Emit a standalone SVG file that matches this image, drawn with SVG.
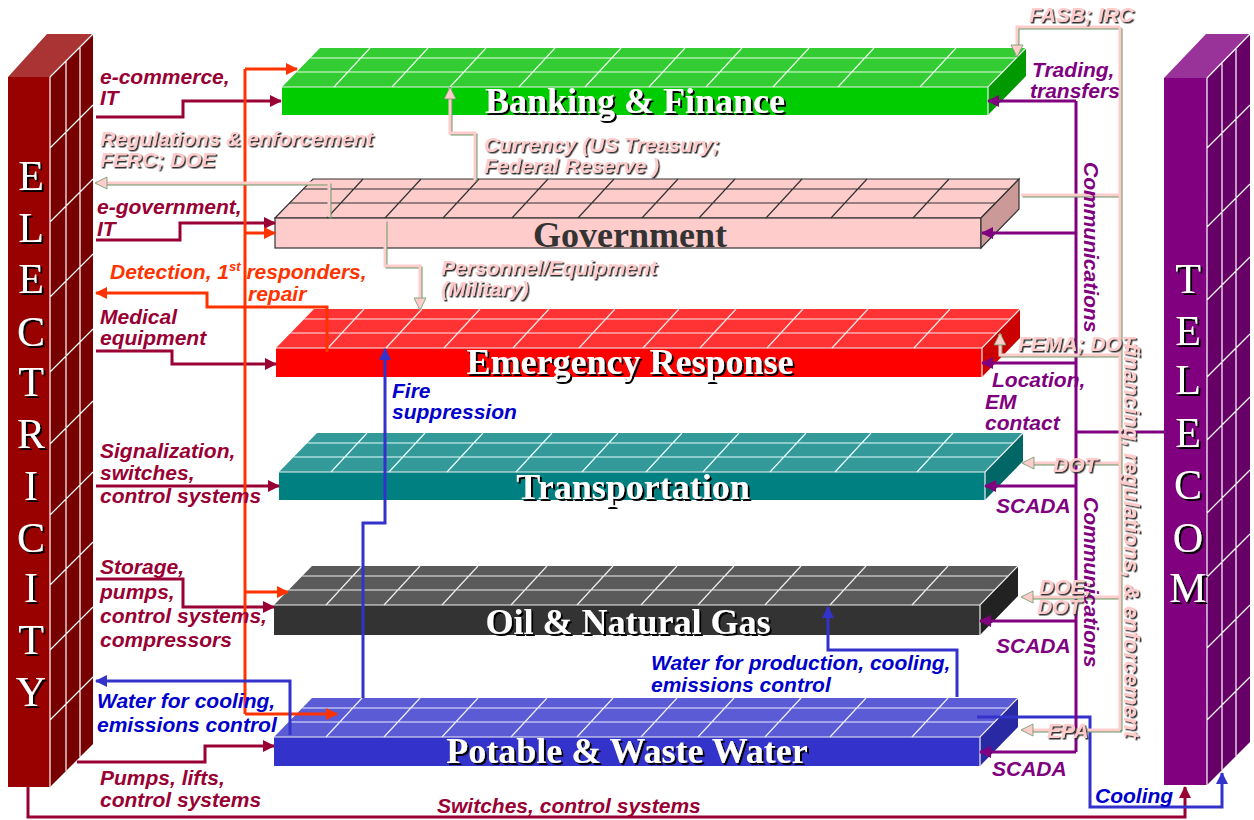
<svg xmlns="http://www.w3.org/2000/svg" width="1254" height="820" viewBox="0 0 1254 820">
<defs>
<style>
.lb{font-family:"Liberation Sans",Arial,sans-serif;font-weight:bold;font-style:italic;font-size:21px}
.mr{fill:#990033}.or{fill:#ff3300}.bl{fill:#0000cc}.pu{fill:#800080}.pk{fill:#ffcccc}
.tt{font-family:"Liberation Serif","Times New Roman",serif;font-weight:bold;font-size:36px;fill:#fff;text-anchor:middle}
.pl{font-family:"Liberation Serif","Times New Roman",serif;font-size:42px;fill:#fff;text-anchor:middle}
.c{fill:none;stroke-width:3}
.cm{stroke:#990033}.co{stroke:#ff3300}.cb{stroke:#3333cc}.cp{stroke:#800080}.ck{stroke:#ffcccc}.cg{stroke:#669966;stroke-width:2}
.wl{stroke:#fff;stroke-width:1.2;fill:none}
.edge{fill:none;stroke:#f0f0f0;stroke-width:1.2}
.gedge{stroke:#333;stroke-width:1.2}
</style>
<filter id="ds" x="-10%" y="-30%" width="120%" height="160%"><feDropShadow dx="1.5" dy="1.5" stdDeviation="0" flood-color="#333" flood-opacity="1"/></filter>
<filter id="ts" x="-10%" y="-30%" width="120%" height="160%"><feDropShadow dx="2" dy="2" stdDeviation="0" flood-color="#000" flood-opacity="1"/></filter>
<marker id="am" viewBox="0 0 12 12" refX="11" refY="6" markerWidth="12" markerHeight="12" markerUnits="userSpaceOnUse" orient="auto"><path d="M0,0 L12,6 L0,12 z" fill="#990033"/></marker>
<marker id="ao" viewBox="0 0 12 12" refX="11" refY="6" markerWidth="12" markerHeight="12" markerUnits="userSpaceOnUse" orient="auto"><path d="M0,0 L12,6 L0,12 z" fill="#ff3300"/></marker>
<marker id="ab" viewBox="0 0 12 12" refX="11" refY="6" markerWidth="12" markerHeight="12" markerUnits="userSpaceOnUse" orient="auto"><path d="M0,0 L12,6 L0,12 z" fill="#3333cc"/></marker>
<marker id="ap" viewBox="0 0 12 12" refX="11" refY="6" markerWidth="12" markerHeight="12" markerUnits="userSpaceOnUse" orient="auto"><path d="M0,0 L12,6 L0,12 z" fill="#800080"/></marker>
<marker id="ak" viewBox="-1 -1 14 14" refX="11" refY="6" markerWidth="14" markerHeight="14" markerUnits="userSpaceOnUse" orient="auto"><path d="M0,0 L12,6 L0,12 z" fill="#ffcccc" stroke="#669966" stroke-width="0.8"/></marker>
<g id="grid"><path fill="none" stroke-width="1.2" d="M28.3,-29 H734.3 M14.6,-15 H720.6 M52,0 l36,-39 M110,0 l36,-39 M168,0 l36,-39 M237,0 l36,-39 M303,0 l36,-39 M367,0 l36,-39 M424,0 l36,-39 M491,0 l36,-39 M556,0 l36,-39 M638,0 l36,-39"/></g>
</defs>
<rect width="1254" height="820" fill="#fff"/>

<!-- ELECTRICITY pillar -->
<g id="electricity">
<polygon points="8,77 50,77 93,34 47,34" fill="#aa3333"/>
<rect x="8" y="77" width="42" height="710" fill="#990000"/>
<polygon points="50,77 93,34 93,744 50,787" fill="#770000"/>
<path class="wl" d="M50,77 V787 M66,61 V771 M80,47 V757 M50,77 L93,34 M50,148 l43,-43 M50,222 l43,-43 M50,297 l43,-43 M50,372 l43,-43 M50,444 l43,-43 M50,515 l43,-43 M50,585 l43,-43 M50,650 l43,-43 M50,720 l43,-43"/>
<g class="pl" filter="url(#ts)">
<text x="31" y="190">E</text><text x="31" y="242">L</text><text x="31" y="293">E</text><text x="31" y="346">C</text><text x="31" y="396">T</text><text x="31" y="448">R</text><text x="31" y="500">I</text><text x="31" y="552">C</text><text x="31" y="602">I</text><text x="31" y="654">T</text><text x="31" y="706">Y</text>
</g>
</g>

<!-- TELECOM pillar -->
<g id="telecom">
<polygon points="1164,78 1207,78 1250,34 1206,34" fill="#993399"/>
<rect x="1164" y="78" width="43" height="707" fill="#800080"/>
<polygon points="1207,78 1250,34 1250,742 1207,785" fill="#660066"/>
<path class="wl" d="M1207,78 V785 M1222,63 V770 M1236,49 V756 M1207,78 L1250,34 M1207,148 l43,-43 M1207,227 l43,-43 M1207,300 l43,-43 M1207,377 l43,-43 M1207,440 l43,-43 M1207,513 l43,-43 M1207,577 l43,-43 M1207,648 l43,-43 M1207,720 l43,-43"/>
<g class="pl" filter="url(#ts)">
<text x="1188" y="293">T</text><text x="1188" y="345">E</text><text x="1188" y="394">L</text><text x="1188" y="447">E</text><text x="1188" y="499">C</text><text x="1188" y="552">O</text><text x="1188" y="602">M</text>
</g>
</g>

<!-- Banking -->
<g id="banking">
<g transform="translate(282,87)">
<polygon points="0,0 38,-39 744,-39 706,0" fill="#33cc33"/>
<rect width="706" height="28" fill="#00cc00"/>
<polygon points="706,0 744,-39 744,-11 706,28" fill="#009900"/>
<use href="#grid" stroke="#e8ffe8"/>
<path class="edge" d="M0,0 H706 L744,-39 M706,0 V28"/>
</g>
<text class="tt" x="635" y="113" filter="url(#ts)">Banking &amp; Finance</text>
</g>

<!-- Government -->
<g id="government">
<g transform="translate(275,218)">
<polygon class="gedge" points="0,0 38,-39 744,-39 706,0" fill="#ffcccc"/>
<rect class="gedge" width="706" height="30" fill="#ffcccc"/>
<polygon class="gedge" points="706,0 744,-39 744,-9 706,30" fill="#cc9999"/>
<use href="#grid" stroke="#333"/>
</g>
<text class="tt" x="630" y="247" style="fill:#333">Government</text>
</g>

<!-- Emergency Response -->
<g id="emergency">
<g transform="translate(276,348)">
<polygon points="0,0 38,-39 744,-39 706,0" fill="#ff3333"/>
<rect width="706" height="29" fill="#ff0000"/>
<polygon points="706,0 744,-39 744,-10 706,29" fill="#cc0000"/>
<use href="#grid" stroke="#ffe8e8"/>
<path class="edge" d="M0,0 H706 L744,-39 M706,0 V29"/>
</g>
<text class="tt" x="630" y="374" filter="url(#ts)">Emergency Response</text>
</g>

<!-- Transportation -->
<g id="transportation">
<g transform="translate(279,472)">
<polygon points="0,0 38,-39 744,-39 706,0" fill="#339999"/>
<rect width="706" height="28" fill="#008080"/>
<polygon points="706,0 744,-39 744,-11 706,28" fill="#006666"/>
<use href="#grid" stroke="#e8ffff"/>
<path class="edge" d="M0,0 H706 L744,-39 M706,0 V28"/>
</g>
<text class="tt" x="633" y="499" filter="url(#ts)">Transportation</text>
</g>

<!-- Oil & Natural Gas -->
<g id="oilgas">
<g transform="translate(274,605)">
<polygon points="0,0 38,-39 744,-39 706,0" fill="#5a5a5a"/>
<rect width="706" height="30" fill="#333333"/>
<polygon points="706,0 744,-39 744,-9 706,30" fill="#222222"/>
<use href="#grid" stroke="#eeeeee"/>
<path class="edge" d="M0,0 H706 L744,-39 M706,0 V30"/>
</g>
<text class="tt" x="628" y="634" filter="url(#ts)">Oil &amp; Natural Gas</text>
</g>

<!-- Potable & Waste Water -->
<g id="water">
<g transform="translate(274,737)">
<polygon points="0,0 38,-39 744,-39 706,0" fill="#5b5bd5"/>
<rect width="706" height="29" fill="#3333cc"/>
<polygon points="706,0 744,-39 744,-10 706,29" fill="#2929a3"/>
<use href="#grid" stroke="#eeeeff"/>
<path class="edge" d="M0,0 H706 L744,-39 M706,0 V29"/>
</g>
<text class="tt" x="627" y="763" filter="url(#ts)">Potable &amp; Waste Water</text>
</g>

<!-- Connectors -->
<g id="connectors">
<g class="c cm" marker-end="url(#am)">
<path d="M96,117 H183 V101 H281"/>
<path d="M96,240 H180 V223 H275"/>
<path d="M96,351 H172 V364 H276"/>
<path d="M96,486 H279"/>
<path d="M96,579 H183 V607 H274"/>
<path d="M77,762 H205 V746 H274"/>
<path d="M28,787 V817 H1185 V787"/>
</g>
<g class="c co">
<path d="M245,69 V714"/>
<path d="M245,69 H297" marker-end="url(#ao)"/>
<path d="M245,233 H275" marker-end="url(#ao)"/>
<path d="M245,592 H288" marker-end="url(#ao)"/>
<path d="M245,714 H337" marker-end="url(#ao)"/>
<path d="M327,352 V307 H207 V293 H96" marker-end="url(#ao)"/>
</g>
<g class="c cb" marker-end="url(#ab)">
<path d="M363,698 V523 H385 V349"/>
<path d="M290,735 V681 H96"/>
<path d="M957,697 V650 H828 V607"/>
<path d="M977,717 H1090 V807 H1222 V773"/>
</g>
<g class="c cp">
<path d="M1164,432 H1076 M1076,101 V752"/>
<path d="M1076,101 H988" marker-end="url(#ap)"/>
<path d="M1076,233 H982" marker-end="url(#ap)"/>
<path d="M1076,363 H982" marker-end="url(#ap)"/>
<path d="M1076,486 H985" marker-end="url(#ap)"/>
<path d="M1076,621 H980" marker-end="url(#ap)"/>
<path d="M1076,752 H980" marker-end="url(#ap)"/>
</g>
<g class="c cg" transform="translate(1.5,1.5)">
<path d="M1120,27 V730"/>
<path d="M1120,27 H1017 V52"/>
<path d="M1021,195 H1120"/>
<path d="M1120,355 H1000 V338"/>
<path d="M1120,463 H1028"/>
<path d="M1120,597 H1027"/>
<path d="M1120,730 H1027"/>
<path d="M329,217 V183 H101"/>
<path d="M475,180 V133 H450 V93"/>
<path d="M385,220 V266 H420 V304"/>
</g>
<g class="c ck">
<path d="M1120,27 V730"/>
<path d="M1021,195 H1120"/>
<path d="M1120,27 H1017 V56" marker-end="url(#ak)"/>
<path d="M1120,355 H1000 V334" marker-end="url(#ak)"/>
<path d="M1120,463 H1023" marker-end="url(#ak)"/>
<path d="M1120,597 H1022" marker-end="url(#ak)"/>
<path d="M1120,730 H1022" marker-end="url(#ak)"/>
<path d="M329,217 V183 H96" marker-end="url(#ak)"/>
<path d="M475,180 V133 H450 V88" marker-end="url(#ak)"/>
<path d="M385,220 V266 H420 V309" marker-end="url(#ak)"/>
</g>
</g>

<!-- Labels -->
<g id="labels" class="lb">
<g class="mr">
<text x="100" y="84">e-commerce,</text><text x="100" y="105">IT</text>
<text x="97" y="214">e-government,</text><text x="97" y="236">IT</text>
<text x="100" y="324">Medical</text><text x="100" y="345">equipment</text>
<text x="100" y="458">Signalization,</text><text x="100" y="480">switches,</text><text x="100" y="503">control systems</text>
<text x="100" y="574">Storage,</text><text x="100" y="599">pumps,</text><text x="100" y="623">control systems,</text><text x="100" y="647">compressors</text>
<text x="100" y="785">Pumps, lifts,</text><text x="100" y="807">control systems</text>
<text x="437" y="813">Switches, control systems</text>
</g>
<g class="or">
<text x="110" y="279">Detection, 1<tspan font-size="13" dy="-8">st</tspan><tspan dy="8"> responders,</tspan></text>
<text x="248" y="301">repair</text>
</g>
<g class="bl">
<text x="392" y="398">Fire</text><text x="392" y="419">suppression</text>
<text x="97" y="708">Water for cooling,</text><text x="97" y="732">emissions control</text>
<text x="651" y="670">Water for production, cooling,</text><text x="651" y="692">emissions control</text>
<text x="1095" y="803">Cooling</text>
</g>
<g class="pu">
<text x="1032" y="77">Trading,</text><text x="1030" y="98">transfers</text>
<text x="992" y="387">Location,</text><text x="985" y="409">EM</text><text x="985" y="430">contact</text>
<text x="996" y="513">SCADA</text><text x="996" y="653">SCADA</text><text x="992" y="776">SCADA</text>
<text transform="translate(1084,162) rotate(90)">Communications</text>
<text transform="translate(1084,497) rotate(90)">Communications</text>
</g>
<g class="pk" filter="url(#ds)">
<text x="100" y="146">Regulations &amp; enforcement</text><text x="100" y="167">FERC; DOE</text>
<text x="484" y="152">Currency (US Treasury;</text><text x="484" y="173">Federal Reserve )</text>
<text x="441" y="275">Personnel/Equipment</text><text x="441" y="296">(Military)</text>
<text x="1029" y="22">FASB; IRC</text>
<text x="1018" y="351">FEMA; DOT</text>
<text x="1053" y="472">DOT</text>
<text x="1039" y="594">DOE;</text><text x="1037" y="614">DOT</text>
<text x="1047" y="738">EPA</text>
<text transform="translate(1124,343) rotate(90)" font-size="22" textLength="395" lengthAdjust="spacing">financing, regulations, &amp; enforcement</text>
</g>
</g>
</svg>
